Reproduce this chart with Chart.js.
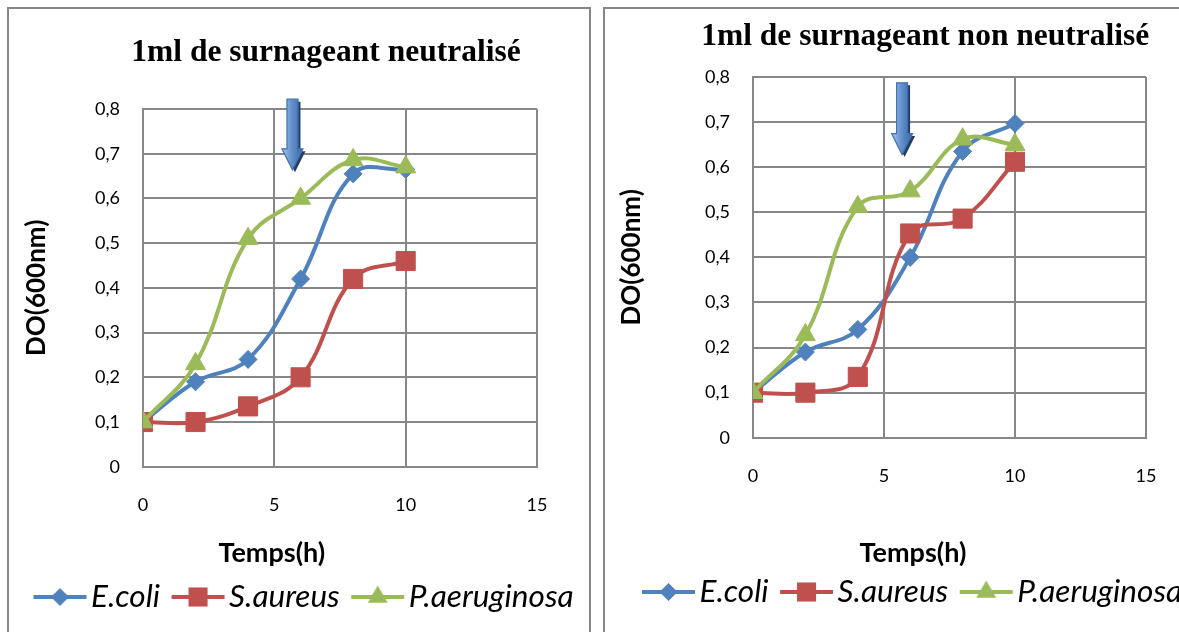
<!DOCTYPE html>
<html>
<head>
<meta charset="utf-8">
<script src="https://cdn.jsdelivr.net/npm/chart.js@4/dist/chart.umd.min.js"></script>
<style>
html, body { margin: 0; padding: 0; background: #fff; width: 1179px; height: 632px; overflow: hidden; position: relative; }
.box { position: absolute; top: 7px; height: 700px; border: 2px solid #878787; background: #fff; }
#boxL { left: 7px; width: 580px; }
#boxR { left: 603px; width: 700px; }
canvas { position: absolute; top: 9px; }
#left { left: 9px; }
#right { left: 605px; }
</style>
</head>
<body>
<div class="box" id="boxL"></div>
<div class="box" id="boxR"></div>
<canvas id="left" width="621" height="623"></canvas>
<canvas id="right" width="615" height="623"></canvas>
<script>
// time points (h)
const hours = [0, 2, 4, 6, 8, 10];
const names = ['E.coli', 'S.aureus', 'P.aeruginosa'];

// 1ml de surnageant neutralisé
const ecoliN = [0.1, 0.19, 0.24, 0.42, 0.655, 0.665];
const saureusN = [0.1, 0.1, 0.135, 0.2, 0.42, 0.46];
const paeruN = [0.1, 0.23, 0.51, 0.6, 0.686, 0.67];

// 1ml de surnageant non neutralisé
const ecoliNN = [0.1, 0.19, 0.24, 0.4, 0.635, 0.697];
const saureusNN = [0.1, 0.1, 0.135, 0.453, 0.486, 0.612];
const paeruNN = [0.1, 0.228, 0.512, 0.547, 0.662, 0.65];

const colors = ['#4F81BD', '#C0504D', '#9BBB59'];
const markers = ['rectRot', 'rect', 'triangle'];
const markerSize = [9, 13.5, 11.5];
const GRID = '#878787';

// little line + marker picture for the legend
function legendGlyph(i) {
    const c = document.createElement('canvas');
    c.width = 55;
    c.height = 30;
    const g = c.getContext('2d');
    g.strokeStyle = colors[i];
    g.fillStyle = colors[i];
    g.lineWidth = 4;
    g.beginPath();
    g.moveTo(1, 15);
    g.lineTo(54, 15);
    g.stroke();
    const r = markerSize[i];
    g.beginPath();
    if (markers[i] == 'rectRot') {
        g.moveTo(27.5, 15 - r); g.lineTo(27.5 + r, 15); g.lineTo(27.5, 15 + r); g.lineTo(27.5 - r, 15);
    } else if (markers[i] == 'rect') {
        const s = r * Math.SQRT1_2;
        g.rect(27.5 - s, 15 - s, 2 * s, 2 * s);
    } else {
        g.moveTo(27.5, 15 - r);
        g.lineTo(27.5 + r * 0.866, 15 + r / 2);
        g.lineTo(27.5 - r * 0.866, 15 + r / 2);
    }
    g.closePath();
    g.fill();
    return c;
}
const glyphs = [0, 1, 2].map(legendGlyph);

// the blue arrow drawn above the curves
const arrowPlugin = {
    id: 'arrow',
    afterDatasetsDraw(chart, args, opts) {
        const ctx = chart.ctx;
        const cx = chart.scales.x.getPixelForValue(opts.x);
        const top = chart.scales.y.getPixelForValue(opts.top);
        const tip = chart.scales.y.getPixelForValue(opts.tip);
        const sw = 5.5, hw = 10.5, hh = 21;
        const path = (dx, dy) => {
            ctx.beginPath();
            ctx.moveTo(cx - sw + dx, top + dy);
            ctx.lineTo(cx + sw + dx, top + dy);
            ctx.lineTo(cx + sw + dx, tip - hh + dy);
            ctx.lineTo(cx + hw + dx, tip - hh + dy);
            ctx.lineTo(cx + dx, tip + dy);
            ctx.lineTo(cx - hw + dx, tip - hh + dy);
            ctx.lineTo(cx - sw + dx, tip - hh + dy);
            ctx.closePath();
        };
        ctx.save();
        path(2.5, 2.5);
        ctx.fillStyle = '#1f3d66';
        ctx.fill();
        const grad = ctx.createLinearGradient(cx - hw, 0, cx + hw, 0);
        grad.addColorStop(0, '#a9c3e6');
        grad.addColorStop(0.45, '#6492cf');
        grad.addColorStop(1, '#3a66a3');
        path(0, 0);
        ctx.fillStyle = grad;
        ctx.fill();
        ctx.strokeStyle = '#4572ad';
        ctx.lineWidth = 1.2;
        ctx.stroke();
        ctx.restore();
    }
};

// x axis title, placed like in the original (not centred on the plot)
const xTitlePlugin = {
    id: 'xTitle',
    afterDraw(chart, args, opts) {
        const ctx = chart.ctx;
        const a = chart.chartArea;
        ctx.save();
        ctx.font = 'bold 27px Lato';
        ctx.fillStyle = '#000';
        ctx.textAlign = 'center';
        ctx.textBaseline = 'middle';
        ctx.fillText(opts.text, a.left + opts.at * (a.right - a.left), a.bottom + opts.dy);
        ctx.restore();
    }
};

function makeChart(id, cfg) {
    const datasets = cfg.series.map((vals, i) => ({
        label: names[i],
        data: hours.map((h, k) => ({ x: h, y: vals[k] })),
        xAxisID: 'x',
        yAxisID: 'y',
        borderColor: colors[i],
        backgroundColor: colors[i],
        borderWidth: 4,
        tension: 0.4,
        pointStyle: markers[i],
        pointRadius: markerSize[i],
        pointBorderWidth: 1,
        pointBorderColor: colors[i],
        pointBackgroundColor: colors[i],
        order: 2 - i
    }));

    return new Chart(document.getElementById(id), {
        type: 'line',
        data: { datasets },
        options: {
            responsive: false,
            animation: false,
            events: [],
            layout: { padding: { left: cfg.padLeft, right: 0, top: 0, bottom: cfg.padBottom } },
            scales: {
                x: {
                    type: 'linear', min: 0, max: 15,
                    ticks: { stepSize: 5, padding: 28, maxRotation: 0, color: '#000', font: { family: 'Lato', size: 18 } },
                    grid: { color: GRID, lineWidth: 2, drawTicks: false },
                    border: { color: GRID, width: 2 },
                    afterFit: s => { s.height = cfg.xAxisHeight; }
                },
                y: {
                    type: 'linear', min: 0, max: 0.8,
                    ticks: {
                        stepSize: 0.1, padding: 23, color: '#000', font: { family: 'Lato', size: 18 },
                        callback: v => v == 0 ? '0' : v.toFixed(1).replace('.', ',')
                    },
                    grid: { color: GRID, lineWidth: 2, drawTicks: false },
                    border: { color: GRID, width: 2 },
                    title: {
                        display: true, text: 'DO(600nm)', color: '#000',
                        font: { family: 'Lato', size: 26, weight: 'bold' },
                        padding: { top: cfg.yTitlePad, bottom: 0 }
                    },
                    afterFit: s => { s.width = cfg.yAxisWidth; }
                },
                pad: {
                    type: 'linear', position: 'right',
                    grid: { display: false }, border: { display: false }, ticks: { display: false },
                    afterFit: s => { s.width = cfg.rightGap; }
                }
            },
            plugins: {
                title: {
                    display: true, text: cfg.title, color: '#000',
                    font: { family: "'Liberation Serif', serif", size: 31.5, weight: 'bold' },
                    padding: { top: cfg.titleTop, bottom: cfg.titleBottom }
                },
                legend: {
                    position: 'bottom',
                    align: 'start',
                    labels: {
                        usePointStyle: true,
                        pointStyleWidth: 30.5,
                        padding: 22.75,
                        color: '#000',
                        font: { family: 'Lato', size: 31.5, style: 'italic' },
                        sort: (a, b) => a.datasetIndex - b.datasetIndex,
                        generateLabels: chart => {
                            const items = Chart.defaults.plugins.legend.labels.generateLabels(chart);
                            items.forEach(it => { it.pointStyle = glyphs[it.datasetIndex]; });
                            return items;
                        }
                    }
                },
                tooltip: { enabled: false },
                arrow: cfg.arrow,
                xTitle: { text: 'Temps(h)', at: cfg.xTitleAt, dy: cfg.xTitleDy }
            }
        },
        plugins: [arrowPlugin, xTitlePlugin]
    });
}

makeChart('left', {
    title: '1ml de surnageant neutralisé',
    series: [ecoliN, saureusN, paeruN],
    padLeft: 13, padBottom: 9.25,
    titleTop: 25, titleBottom: 37.2,
    yAxisWidth: 121, yTitlePad: -1,
    rightGap: 93, xAxisHeight: 91.75,
    xTitleAt: 0.327, xTitleDy: 87,
    arrow: { x: 5.69, top: 0.822, tip: 0.664 }
});

makeChart('right', {
    title: '1ml de surnageant non neutralisé',
    series: [ecoliNN, saureusNN, paeruNN],
    padLeft: 25.5, padBottom: 14.25,
    titleTop: 9.1, titleBottom: 21.1,
    yAxisWidth: 122.5, yTitlePad: -14,
    rightGap: 74, xAxisHeight: 115.75,
    xTitleAt: 0.407, xTitleDy: 116,
    arrow: { x: 5.69, top: 0.787, tip: 0.628 }
});
</script>
</body>
</html>
